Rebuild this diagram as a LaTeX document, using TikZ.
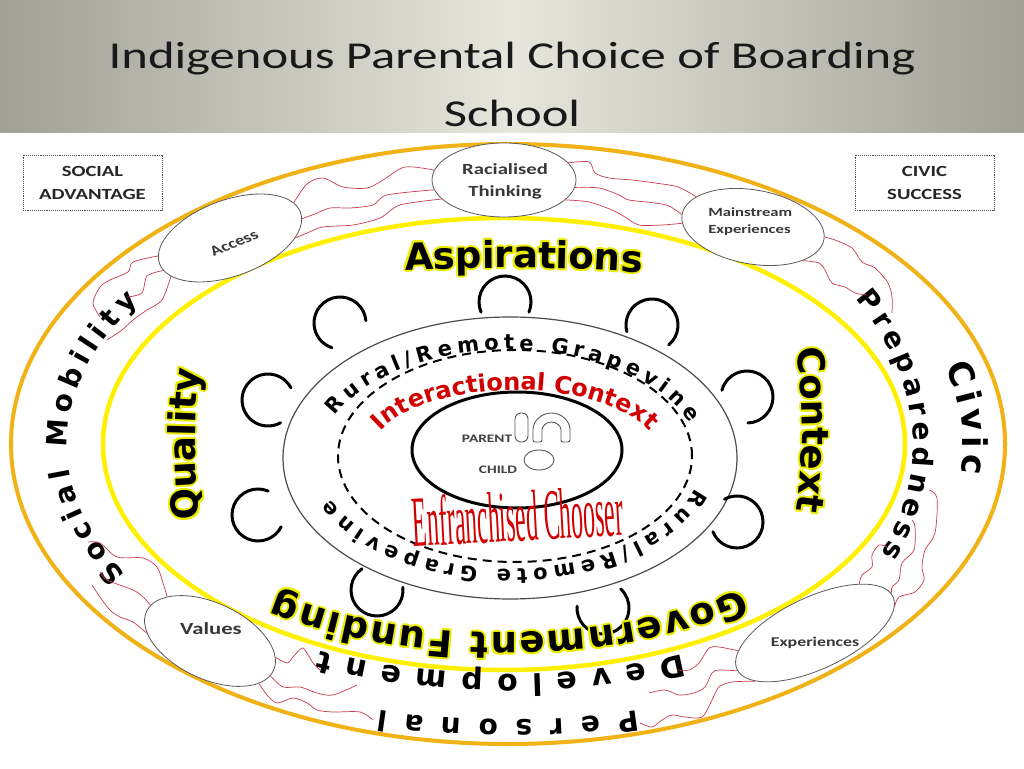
\documentclass[tikz,border=0pt]{standalone}
\usepackage{fontspec}
\setmainfont{Carlito}
\newfontfamily\heavy{DejaVu Sans}
\newfontfamily\wordart{Liberation Serif}
\usetikzlibrary{shapes.geometric, decorations.text}

\definecolor{ringorange}{RGB}{240,178,20}
\definecolor{ringyellow}{RGB}{255,240,0}
\definecolor{glowyel}{RGB}{236,236,0}
\definecolor{squigred}{RGB}{200,60,80}
\definecolor{ctxred}{RGB}{210,0,0}
\definecolor{banddark}{RGB}{160,160,150}
\definecolor{bandlight}{RGB}{230,230,220}
\definecolor{bubgray}{RGB}{90,90,90}

\newcommand\bigring{\heavy\bfseries\fontsize{37}{37}\selectfont}
\newcommand\bandring{\heavy\bfseries\fontsize{28}{28}\selectfont}
\newcommand\civicring{\heavy\bfseries\fontsize{34}{34}\selectfont}
\newcommand\devring{\heavy\bfseries\fontsize{30}{30}\selectfont}
\newcommand\grapering{\heavy\bfseries\fontsize{21}{21}\selectfont}
\newcommand\ctxring{\heavy\bfseries\fontsize{24}{24}\selectfont}
\newcommand\bubfnt[2]{\bfseries\fontsize{#1}{#2}\selectfont}

% text along an elliptic arc: centre, start, end, x radius, y radius, options, text
\newcommand\ringtext[7]{%
  \path[decorate, decoration={text along path, #6, text={#7}}]
    ([shift={(#2:#4 and #5)}]#1) arc[start angle=#2, end angle=#3, x radius=#4, y radius=#5];}
% the same in black with a yellow halo
\newcommand\glowtext[7]{%
  \foreach \gx/\gy in {2/0,-2/0,0/2,0/-2,1.4/1.4,-1.4/1.4,1.4/-1.4,-1.4/-1.4}{%
    \path[decorate, decoration={text along path, #6, text color=glowyel, text={#7}}]
      ([shift={(#2:#4 and #5)}, xshift=\gx, yshift=\gy]#1) arc[start angle=#2, end angle=#3, x radius=#4, y radius=#5];}%
  \ringtext{#1}{#2}{#3}{#4}{#5}{#6, text color=black}{#7}}

\tikzset{
  titletext/.style={font=\fontsize{38}{46}\selectfont, text=black!90, xscale=1.333, inner sep=0pt, anchor=base},
  bubble/.style={ellipse, draw=bubgray, fill=white, line width=.8pt, inner sep=0pt},
  bubtext/.style={text=black!78, inner sep=0pt, xscale=1.333},
  kidtext/.style={font={\bubfnt{11.5}{11.5}}, text=black!75, inner sep=0pt, xscale=1.333},
  advbox/.style={draw=black!70, densely dotted, line width=.9pt, xscale=1.333, minimum width=104.3,
    minimum height=55, align=center, inner sep=0pt, font={\bubfnt{15.5}{23}}, text=black!85},
  squig/.style={draw=squigred, line width=.7pt},
  ear/.style={line width=3pt, line cap=round},
  kid/.style={draw=black!65, line width=.9pt}
}

\begin{document}
\begin{tikzpicture}[x=1pt, y=1pt]
\useasboundingbox (0,0) rectangle (1024,768);
\fill[white] (0,0) rectangle (1024,768);
\fill[left color=banddark, right color=banddark, middle color=bandlight] (0,635) rectangle (1024,768);

% picture pixels, y downwards
\begin{scope}[shift={(0,768)}, yscale=-1]
  \coordinate (outerC) at (508,444);
  \coordinate (yellowC) at (504,444);
  \coordinate (blackC) at (510,458);
  \coordinate (dashC) at (515,456);
  \coordinate (innerC) at (517,450);
  \coordinate (contextC) at (504,430);
  \node[titletext] (titleA) at (512,69) {Indigenous Parental Choice of Boarding};
  \node[titletext] (titleB) at (512,127) {School};
\end{scope}

% rings
\draw[ringorange, line width=4] (outerC) ellipse [x radius=497, y radius=300];
\draw[ringyellow, line width=4.5] (yellowC) ellipse [x radius=401, y radius=226];
\draw[black!70, line width=1.2] (blackC) ellipse [x radius=227, y radius=141];
\draw[line width=2, dash pattern=on 9pt off 6pt] (dashC) ellipse [x radius=177, y radius=106];
\draw[line width=3] (innerC) ellipse [x radius=105, y radius=58];

% ears round the grapevine
\foreach \ex/\ey/\ea/\eb in {505/466/-23/203, 340/445/5/252, 652/443/-50/195,
    268/368/28/299, 747/371/-88/165, 258/253/67/333, 737/246/202/479,
    377/178/125/366, 603/160/176/407}
  \draw[ear] ([shift={(\ea:26)}]\ex,\ey) arc[start angle=\ea, end angle=\eb, radius=26];

% ring texts
\glowtext{yellowC}{110}{66}{600}{176}{text align=center}{|\bigring|Aspirations}
\glowtext{yellowC}{200}{160}{309}{420}{text align=center}{|\bigring|Quality}
\glowtext{contextC}{14}{-14}{298}{420}{text align=center}{|\bigring|Context}
\glowtext{yellowC}{-50}{-128}{370}{189}{text align=fit to path}{|\bigring|Government Funding}
\ringtext{outerC}{210}{147}{441}{260}{text align=fit to path}{|\bandring|Social Mobility}
\ringtext{outerC}{31}{-23}{405}{282}{text align=fit to path}{|\bandring|Preparedness}
\ringtext{outerC}{16}{-6}{455}{282}{text align=fit to path}{|\civicring|Civic}
\ringtext{outerC}{-66}{-116}{430}{230}{text align=fit to path}{|\devring|Development}
\ringtext{outerC}{-75}{-105}{500}{276}{text align=fit to path}{|\bandring|Personal}
\ringtext{blackC}{157}{19}{190}{108}{text align=fit to path}{|\grapering|Rural/Remote Grapevine}
\ringtext{blackC}{-16}{-158}{193}{111}{text align=fit to path}{|\grapering|Rural/Remote Grapevine}
\ringtext{dashC}{170}{10}{145}{66}{text align=center, text color=ctxred}{|\ctxring|Interactional Context}

\begin{scope}[shift={(0,768)}, yscale=-1]
  % parent and child
  \draw[kid, rounded corners=6] (515,413) rectangle (528,442);
  \draw[kid, rounded corners=2] (533,442) -- (533,431.5) arc[start angle=180, end angle=360, radius=18.5]
    -- (570,442) -- (561,442) -- (561,431.5) arc[start angle=0, end angle=-180, radius=9.5] -- (542,442) -- cycle;
  \draw[kid] (539,460) ellipse [x radius=15, y radius=10];
  \node[kidtext] (parent) at (487,439) {PARENT};
  \node[kidtext] (child) at (498,470) {CHILD};
  \node[text=ctxred, rotate=3, inner sep=0pt, anchor=base] (chooser) at (519,541)
    {\scalebox{.33}[1]{\wordart\fontsize{72}{72}\selectfont Enfranchised Chooser}};

  % bubbles
  \node[bubble, minimum width=144, minimum height=74] (racial) at (504,180) {};
  \node[bubble, minimum width=150, minimum height=76, rotate=20] (access) at (230,238) {};
  \node[bubble, minimum width=144, minimum height=74, rotate=-10] (mainstream) at (753,227) {};
  \node[bubble, minimum width=140, minimum height=76, rotate=-25] (values) at (210,641) {};
  \node[bubble, minimum width=172, minimum height=72, rotate=25] (experiences) at (815,633) {};

  \node[bubtext, font={\bubfnt{15.5}{22}}, align=center] (racialtxt) at (505,181) {Racialised\\Thinking};
  \node[bubtext, font={\bubfnt{14.2}{14.2}}, rotate=28] (accesstxt) at (234,243) {Access};
  \node[bubtext, font={\bubfnt{12.5}{17}}, align=left, anchor=west] (mainstreamtxt) at (708,222) {Mainstream\\Experiences};
  \node[bubtext, font={\bubfnt{17}{17}}] (valuestxt) at (211,629) {Values};
  \node[bubtext, font={\bubfnt{13.4}{13.4}}] (experiencestxt) at (815,643) {Experiences};

  % corner boxes
  \node[advbox] (socialbox) at (92.5,182.5) {SOCIAL\\ADVANTAGE};
  \node[advbox] (civicbox) at (924.5,182.5) {CIVIC\\SUCCESS};

  % red links
  \draw[squig] plot[smooth] coordinates {(racial.172) (405,167) (383,180) (367,188) (343,187) (323,178) (307,184) (access.9)};
  \draw[squig] plot[smooth] coordinates {(racial.188) (387,195) (373,205) (350,208) (330,208) (315,214) (access.-5)};
  \draw[squig] plot[smooth] coordinates {(racial.197) (400,205) (380,218) (353,225) (323,227) (307,233) (access.-20)};

  \draw[squig] plot[smooth] coordinates {(access.174) (133,262) (128,272) (110,280) (100,287) (93,303) (100,317)};
  \draw[squig] plot[smooth] coordinates {(access.186) (147,276) (142,293) (127,297)};
  \draw[squig] plot[smooth] coordinates {(access.193) (162,300) (147,310) (133,320) (122,330) (110,338) (107,340)};

  \draw[squig] plot[smooth] coordinates {(racial.15) (589,162) (595,173) (609,178) (632,180) (655,183) (678,187) (mainstream.162)};
  \draw[squig] plot[smooth] coordinates {(racial.-6) (599,188) (619,195) (629,200) (655,203) (669,206) (mainstream.180)};
  \draw[squig] plot[smooth] coordinates {(racial.-18) (589,202) (612,210) (625,217) (639,225) (662,225) (mainstream.187)};

  \draw[squig] plot[smooth] coordinates {(mainstream.2) (835,240) (852,248) (862,262) (875,268) (888,283) (892,297) (892,313)};
  \draw[squig] plot[smooth] coordinates {(mainstream.-24) (819,263) (825,270) (832,283) (845,287) (855,293) (867,295)};

  \draw[squig] plot[smooth] coordinates {(experiences.-7) (899,597) (915,592) (924,580) (922,567) (925,550) (935,533) (937,498) (929,490)};
  \draw[squig] plot[smooth] coordinates {(experiences.2) (892,587) (899,580) (902,563) (914,550) (915,527) (912,520)};
  \draw[squig] plot[smooth] coordinates {(experiences.23) (862,575) (872,567) (872,555) (879,545) (887,547)};

  \draw[squig] plot[smooth] coordinates {(experiences.168) (719,647) (709,648) (699,663) (689,670) (677,670)};
  \draw[squig] plot[smooth] coordinates {(experiences.181) (719,670) (712,673) (705,687) (694,693) (679,695) (665,690) (649,693)};
  \draw[squig] plot[smooth] coordinates {(experiences.194) (732,682) (719,687) (712,700) (702,717) (685,717) (672,715) (662,720) (652,727) (640,723)};

  \draw[squig] plot[smooth] coordinates {(values.11) (287,663) (293,657) (302,648) (307,653) (313,663) (320,670)};
  \draw[squig] plot[smooth] coordinates {(values.-5) (283,687) (300,687) (317,693) (333,695) (357,685)};
  \draw[squig] plot[smooth] coordinates {(values.-16) (267,695) (277,703) (293,698) (307,703) (317,710) (333,712) (360,712) (373,720)};

  \draw[squig] plot[smooth] coordinates {(values.159) (163,583) (157,567) (143,558) (117,557) (100,543) (88,542)};
  \draw[squig] plot[smooth] coordinates {(values.174) (143,597) (133,590) (107,580) (100,572)};
  \draw[squig] plot[smooth] coordinates {(values.198) (133,622) (120,617) (110,610) (100,597) (92,585)};
\end{scope}
\end{tikzpicture}
\end{document}
